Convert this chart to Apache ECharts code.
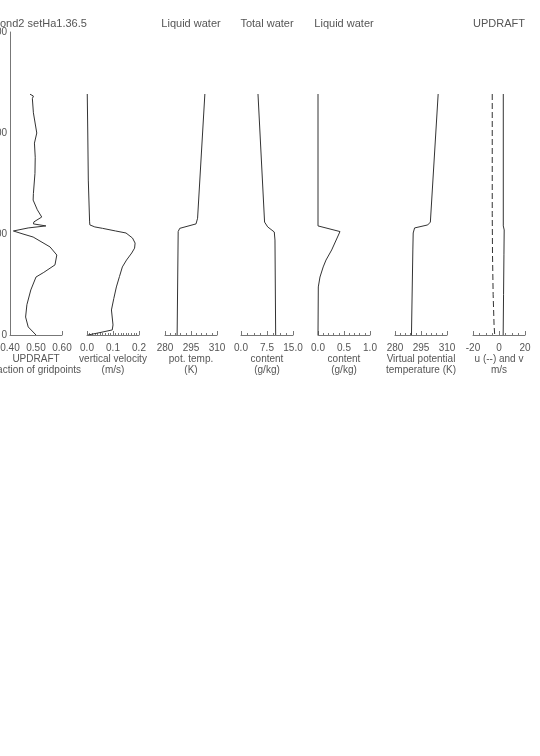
<!DOCTYPE html>
<html>
<head>
<meta charset="utf-8">
<script src="https://cdn.jsdelivr.net/npm/echarts@6/dist/echarts.min.js"></script>
<style>html,body{margin:0;padding:0;background:#fff}#c{width:540px;height:756px}</style>
</head>
<body>
<div id="c"></div>
<script>
// ---- data (height in m, value) ----
const yTicks = [0, 500, 1000, 1500];

const updraftH    = [1192,1183,1170,1100,1000,950,880,800,700,668,620,584,560,550,540,530,515,500,485,436,396,347,310,287,223,150,89,40,0];
const updraftFrac = [0.477,0.490,0.486,0.490,0.503,0.494,0.497,0.496,0.490,0.489,0.505,0.522,0.492,0.490,0.538,0.470,0.413,0.450,0.489,0.554,0.580,0.573,0.530,0.500,0.480,0.465,0.460,0.470,0.500];

const wH = [1193,1000,767,560,545,535,528,515,505,480,455,430,406,371,337,290,238,180,124,50,25,12,0];
const wVal = [0.001,0.003,0.005,0.010,0.011,0.030,0.060,0.110,0.150,0.175,0.185,0.183,0.172,0.152,0.136,0.125,0.113,0.103,0.094,0.100,0.097,0.050,0.004];

const thetaH = [1193,578,550,528,512,0];
const theta  = [303.0,298.8,297.9,288.5,287.6,287.0];

const qtH = [1193,559,535,510,470,0];
const qt  = [4.9,6.8,7.7,9.6,9.8,10.0];

const qlH = [1193,540,512,421,371,337,287,238,0];
const ql  = [0,0,0.423,0.263,0.154,0.100,0.038,0.006,0];

const thetavH = [1193,559,545,530,505,421,0];
const thetav  = [304.9,300.4,298.9,291.3,290.5,290.3,289.5];

const uH = [1193,600,400,200,50,0];
const uVal = [-5.2,-5.2,-5.0,-4.5,-3.8,-3.3];
const vH = [1193,540,520,400,200,0];
const vVal = [3.3,3.3,4.0,3.8,3.5,3.2];

// axis tick labels
const xTicks1 = [0.40,0.50,0.60];
const xTicks2 = [0.0,0.1,0.2];
const xTicks3 = [280,295,310];
const xTicks4 = [0.0,7.5,15.0];
const xTicks5 = [0.0,0.5,1.0];
const xTicks6 = [280,295,310];
const xTicks7 = [-20,0,20];

const panelNames = [
  'UPDRAFT\nfraction of gridpoints',
  'vertical velocity\n(m/s)',
  'pot. temp.\n(K)',
  'content\n(g/kg)',
  'content\n(g/kg)',
  'Virtual potential\ntemperature (K)',
  'u (--) and v\nm/s'
];
const topTitles = [
  {text:'ond2 setHa1.36.5', x:0, align:'left'},
  {text:'Liquid water', x:191, align:'center'},
  {text:'Total water', x:267, align:'center'},
  {text:'Liquid water', x:344, align:'center'},
  {text:'UPDRAFT', x:499, align:'center'}
];

// ---- layout / style ----
const FONT = 'Liberation Sans';
const TXT = '#555';
const AX = '#777';
const LINE = '#333';
const lefts = [10, 87, 165, 241, 318, 395, 473];
const W = 52, TOP = 32, H = 303;

function pairs(xs, hs){ return hs.map((h,i)=>[xs[i], h]); }
function decimals(t){ const s = String(t); return s.includes('.') ? s.split('.')[1].length : 0; }

const axisDefs = [
  {ticks:xTicks1, dec:2, minor:0, tickCustom:[0.60]},
  {ticks:xTicks2, dec:1, minor:10},
  {ticks:xTicks3, dec:0, minor:5},
  {ticks:xTicks4, dec:1, minor:4},
  {ticks:xTicks5, dec:1, minor:5},
  {ticks:xTicks6, dec:0, minor:5},
  {ticks:xTicks7, dec:0, minor:4}
];

const grids = [], xAxes = [], yAxes = [];
axisDefs.forEach((d, i) => {
  grids.push({left: lefts[i], top: TOP, width: W, height: H, containLabel:false, outerBoundsMode:'none'});
  const mn = d.ticks[0], mx = d.ticks[d.ticks.length-1];
  const ax = {
    type:'value', gridIndex:i, min:mn, max:mx, interval: d.ticks[1]-d.ticks[0],
    axisLine:{show:true, onZero:false, lineStyle:{color:AX, width:1}},
    splitLine:{show:false},
    axisLabel:{show:true, color:TXT, fontFamily:FONT, fontSize:10, margin:8,
      showMinLabel:true, showMaxLabel:true,
      formatter: v => Number(v).toFixed(d.dec)},
    name: panelNames[i], nameLocation:'middle', nameGap:19,
    nameTextStyle:{color:TXT, fontFamily:FONT, fontSize:10, lineHeight:10.5, verticalAlign:'top'},
    axisTick:{show:true, inside:true, length:4, lineStyle:{color:AX}},
    minorTick:{show: d.minor>0, splitNumber: d.minor||5, length:2, lineStyle:{color:AX}}
  };
  if (d.tickCustom) { ax.axisTick.customValues = d.tickCustom; }
  xAxes.push(ax);
  yAxes.push({
    type:'value', gridIndex:i, min:0, max:1500, interval:500,
    show: i===0,
    axisLine:{show:true, onZero:false, lineStyle:{color:AX}},
    axisTick:{show:false}, splitLine:{show:false},
    axisLabel:{color:TXT, fontFamily:FONT, fontSize:10, margin:3,
      customValues: yTicks}
  });
});

function ser(idx, data, dashed){
  return {type:'line', xAxisIndex:idx, yAxisIndex:idx, data:data, showSymbol:false, symbol:'none',
    smooth:false, animation:false, silent:true,
    lineStyle:{color:LINE, width:1, type: dashed ? [6,3] : 'solid'}};
}

const series = [
  ser(0, pairs(updraftFrac, updraftH)),
  ser(1, pairs(wVal, wH)),
  ser(2, pairs(theta, thetaH)),
  ser(3, pairs(qt, qtH)),
  ser(4, pairs(ql, qlH)),
  ser(5, pairs(thetav, thetavH)),
  ser(6, pairs(uVal, uH), true),
  ser(6, pairs(vVal, vH))
];

const graphic = topTitles.map(t => ({
  type:'text', x:t.x, y:24,
  style:{text:t.text, fill:TXT, font:'11px "'+FONT+'"', align:t.align, verticalAlign:'middle'}
}));

const chart = echarts.init(document.getElementById('c'), null, {renderer:'canvas'});
chart.setOption({
  backgroundColor:'#fff',
  animation:false,
  grid: grids, xAxis: xAxes, yAxis: yAxes,
  series: series,
  graphic: graphic
});
</script>
</body>
</html>
